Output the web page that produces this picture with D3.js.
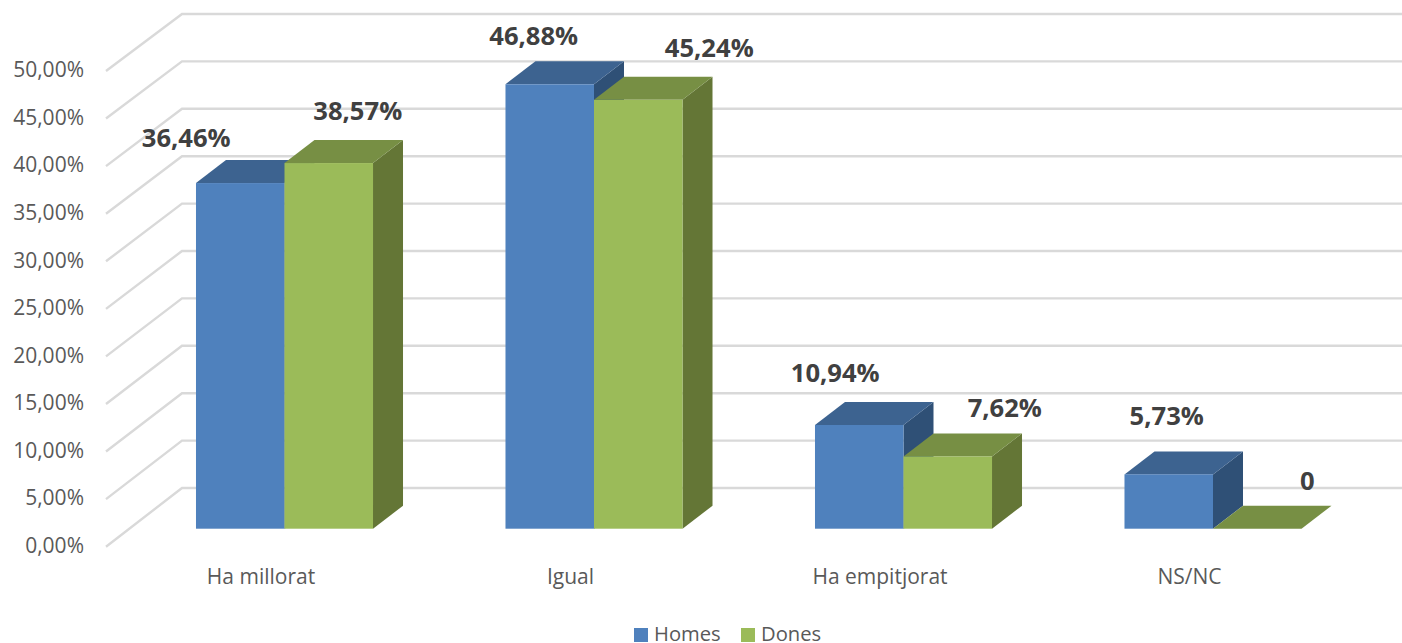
<!DOCTYPE html>
<html><head><meta charset="utf-8">
<script src="https://cdn.jsdelivr.net/npm/d3@7"></script>
<style>html,body{margin:0;padding:0;background:#fff;overflow:hidden}svg{display:block}text{font-family:"Open Sans",sans-serif}</style>
</head><body><svg id="c" width="1402" height="643"></svg>
<script>
const categories = ["Ha millorat", "Igual", "Ha empitjorat", "NS/NC"];
const seriesNames = ["Homes", "Dones"];
const homes = [36.46, 46.88, 10.94, 5.73];
const dones = [38.57, 45.24, 7.62, 0];
const homesLabels = ["36,46%", "46,88%", "10,94%", "5,73%"];
const donesLabels = ["38,57%", "45,24%", "7,62%", "0"];
const yTicks = [0, 5, 10, 15, 20, 25, 30, 35, 40, 45, 50];

// hand-placed label nudges, [dx from bar centre, dy from bar top]
const nudgeH = [[-54, -45], [-16, -48], [-24, -52], [-2, -58]];
const nudgeD = [[29, -52], [71, -52], [57, -48], [50, -48]];

const colors = {
  Homes: {front: "#4f81bd", top: "#3d6390", side: "#2f5076"},
  Dones: {front: "#9bbb59", top: "#778f44", side: "#647636"}
};
const svg = d3.select("#c");
const fmt = d => d3.format(".2f")(d).replace(".", ",") + "%";

const yFront = d3.scaleLinear().domain([0, 50]).range([546.7, 71]);
const yBack  = d3.scaleLinear().domain([0, 50]).range([488, 14]);
const yBar   = d3.scaleLinear().domain([0, 50]).range([528.7, 54.7]);
const x0 = d3.scaleBand().domain(categories).range([129.75, 1367.75]).paddingInner(0.428).paddingOuter(0.214);
const x1 = d3.scaleBand().domain(seriesNames).range([0, x0.bandwidth()]);
const depthX = 30, depthY = 23;
const xLeft = 106, xBackLeft = 182, xRight = 1402;

// gridlines
svg.append("g").selectAll("path").data(yTicks).join("path")
  .attr("d", t => `M${xLeft},${yFront(t)}L${xBackLeft},${yBack(t)}L${xRight},${yBack(t)}`)
  .attr("fill", "none").attr("stroke", "#d9d9d9").attr("stroke-width", 2.4);

// y axis labels
const yAxis = d3.axisLeft(yFront).tickValues(yTicks).tickFormat(fmt).tickSize(0).tickPadding(0);
const gy = svg.append("g").attr("transform", "translate(84,-1)").call(yAxis);
gy.select(".domain").remove();
gy.selectAll("text").attr("fill", "#595959").attr("font-size", 21).style("font-family", '"Open Sans",sans-serif');

// category labels
const xAxis = d3.axisBottom(x0).tickSize(0).tickPadding(0);
const gx = svg.append("g").attr("transform", "translate(-23.5,564)").call(xAxis);
gx.select(".domain").remove();
gx.selectAll("text").attr("fill", "#595959").attr("font-size", 21).attr("dy", 0).attr("y", 20).style("font-family", '"Open Sans",sans-serif');

// bars
const bars = [];
categories.forEach((c, i) => {
  bars.push({c, s: "Homes", v: homes[i], label: homesLabels[i], n: nudgeH[i]});
  bars.push({c, s: "Dones", v: dones[i], label: donesLabels[i], n: nudgeD[i]});
});
const g = svg.append("g").selectAll("g").data(bars).join("g");
g.each(function (d) {
  const sel = d3.select(this);
  const l = x0(d.c) + x1(d.s), r = l + x1.bandwidth(), t = yBar(d.v), b = yBar(0);
  const col = colors[d.s];
  sel.append("path").attr("d", `M${r},${t}L${r + depthX},${t - depthY}L${r + depthX},${b - depthY}L${r},${b}Z`).attr("fill", col.side);
  sel.append("path").attr("d", `M${l},${t}L${l + depthX},${t - depthY}L${r + depthX},${t - depthY}L${r},${t}Z`).attr("fill", col.top);
  sel.append("rect").attr("x", l).attr("y", t).attr("width", x1.bandwidth()).attr("height", b - t).attr("fill", col.front);
});

// value labels
svg.append("g").selectAll("text").data(bars).join("text")
  .attr("x", d => x0(d.c) + x1(d.s) + x1.bandwidth() / 2 + d.n[0])
  .attr("y", d => yBar(d.v) + d.n[1])
  .attr("dy", "0.35em").attr("text-anchor", "middle")
  .attr("font-size", 25.6).attr("font-weight", 700).attr("fill", "#404040")
  .text(d => d.label);

// legend
const lx = d3.scaleOrdinal().domain(seriesNames).range([634, 741]);
const lg = svg.append("g").selectAll("g").data(seriesNames).join("g")
  .attr("transform", d => `translate(${lx(d)},628)`);
lg.append("rect").attr("width", 14).attr("height", 14).attr("fill", d => colors[d].front);
lg.append("text").attr("x", 20).attr("y", 13).attr("font-size", 20.2).attr("fill", "#595959").text(d => d);
</script></body></html>
